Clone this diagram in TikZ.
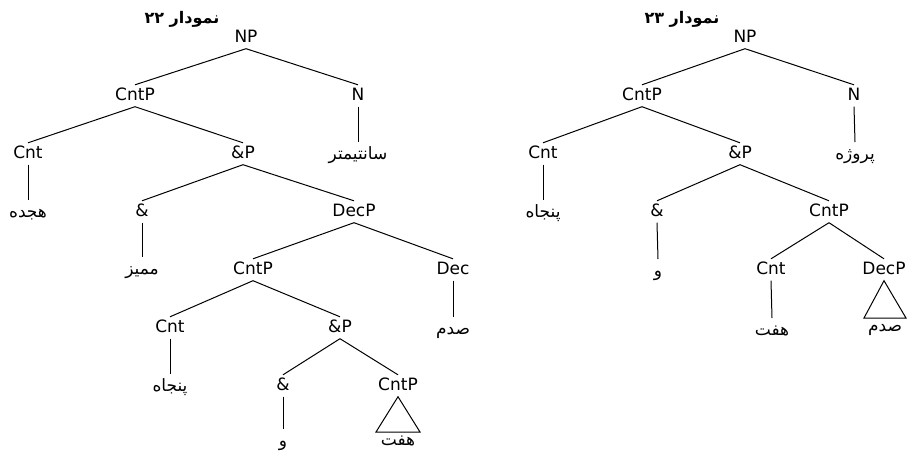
\documentclass[tikz,border=0pt]{standalone}
\usepackage{fontspec}
\setmainfont{DejaVu Sans}
\newfontfamily\farsi[Script=Arabic]{DejaVu Sans}
\TeXXeTstate=1
\usetikzlibrary{positioning}

\begin{document}
\begin{tikzpicture}[x=1pt, y=-1pt,
    cat/.style={font=\fontsize{17}{20}\selectfont, anchor=base,
                text height=12.5pt, text depth=4pt, inner sep=2.5pt},
    leaf/.style={font=\fontsize{17}{20}\selectfont\farsi, anchor=north,
                 text height=14pt, text depth=4pt, inner sep=3pt},
    roof/.style={leaf, text height=10pt},
    ttl/.style={font=\fontsize{16}{18}\selectfont\farsi\bfseries},
    br/.style={line width=1pt},
  ]
  \useasboundingbox (0,0) rectangle (908,450);

  % tree 22
  \node[ttl] (ttlA) at (182,19) {\beginR نمودار \beginL۲۲\endL\endR};
  \node[cat] (npA)    at (246,42)  {NP};
  \node[cat] (cntpA)  at (135,100) {CntP};
  \node[cat] (nA)     at (358,100) {N};
  \node[cat] (cntA)   at (28,158)  {Cnt};
  \node[cat] (andpA)  at (243,158) {\&P};
  \node[cat] (andA)   at (142,216) {\&};
  \node[cat] (decpA)  at (354,216) {DecP};
  \node[cat] (cntpB)  at (253,274) {CntP};
  \node[cat] (decA)   at (453,274) {Dec};
  \node[cat] (cntB)   at (170,332) {Cnt};
  \node[cat] (andpB)  at (340,332) {\&P};
  \node[cat] (andB)   at (283,390) {\&};
  \node[cat] (cntpC)  at (398,390) {CntP};

  \node[leaf] (santA)  at (358,142) {\beginR سانتیمتر\endR};
  \node[leaf] (hejA)   at (28,200)  {\beginR هجده\endR};
  \node[leaf] (momA)   at (142,257) {\beginR ممیز\endR};
  \node[leaf] (sadA)   at (453,317) {\beginR صدم\endR};
  \node[leaf] (panA)   at (170,374) {\beginR پنجاه\endR};
  \node[leaf] (vaA)    at (283,429) {\beginR و\endR};
  \node[roof] (haftA)  at (398,432) {\beginR هفت\endR};

  \draw[br] (npA.south)   -- (cntpA.north);
  \draw[br] (npA.south)   -- (nA.north);
  \draw[br] (cntpA.south) -- (cntA.north);
  \draw[br] (cntpA.south) -- (andpA.north);
  \draw[br] (andpA.south) -- (andA.north);
  \draw[br] (andpA.south) -- (decpA.north);
  \draw[br] (decpA.south) -- (cntpB.north);
  \draw[br] (decpA.south) -- (decA.north);
  \draw[br] (cntpB.south) -- (cntB.north);
  \draw[br] (cntpB.south) -- (andpB.north);
  \draw[br] (andpB.south) -- (andB.north);
  \draw[br] (andpB.south) -- (cntpC.north);

  \draw[br] (nA.south)    -- (santA.north);
  \draw[br] (cntA.south)  -- (hejA.north);
  \draw[br] (andA.south)  -- (momA.north);
  \draw[br] (decA.south)  -- (sadA.north);
  \draw[br] (cntB.south)  -- (panA.north);
  \draw[br] (andB.south)  -- (vaA.north);
  \draw[br] (cntpC.south) -- ([xshift=-22pt]haftA.north)
                          -- ([xshift=22pt]haftA.north) -- cycle;

  % tree 23
  \node[ttl] (ttlB) at (682,19) {\beginR نمودار \beginL۲۳\endL\endR};
  \node[cat] (npB)    at (745,42)  {NP};
  \node[cat] (cntpD)  at (642,100) {CntP};
  \node[cat] (nB)     at (854,100) {N};
  \node[cat] (cntC)   at (543,158) {Cnt};
  \node[cat] (andpC)  at (740,158) {\&P};
  \node[cat] (andC)   at (657,216) {\&};
  \node[cat] (cntpE)  at (829,216) {CntP};
  \node[cat] (cntD)   at (771,274) {Cnt};
  \node[cat] (decpB)  at (884,274) {DecP};

  \node[leaf] (parB)   at (855,142) {\beginR پروژه\endR};
  \node[leaf] (panB)   at (543,200) {\beginR پنجاه\endR};
  \node[leaf] (vaB)    at (658,259) {\beginR و\endR};
  \node[leaf] (haftB)  at (772,318) {\beginR هفت\endR};
  \node[roof] (sadB)   at (885,318) {\beginR صدم\endR};

  \draw[br] (npB.south)   -- (cntpD.north);
  \draw[br] (npB.south)   -- (nB.north);
  \draw[br] (cntpD.south) -- (cntC.north);
  \draw[br] (cntpD.south) -- (andpC.north);
  \draw[br] (andpC.south) -- (andC.north);
  \draw[br] (andpC.south) -- (cntpE.north);
  \draw[br] (cntpE.south) -- (cntD.north);
  \draw[br] (cntpE.south) -- (decpB.north);

  \draw[br] (nB.south)    -- (parB.north);
  \draw[br] (cntC.south)  -- (panB.north);
  \draw[br] (andC.south)  -- (vaB.north);
  \draw[br] (cntD.south)  -- (haftB.north);
  \draw[br] (decpB.south) -- ([xshift=-21pt]sadB.north)
                          -- ([xshift=21pt]sadB.north) -- cycle;
\end{tikzpicture}
\end{document}
